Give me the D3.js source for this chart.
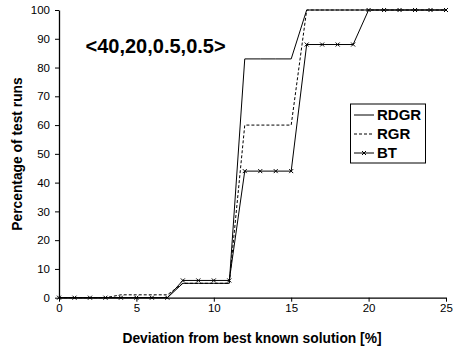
<!DOCTYPE html>
<html>
<head>
<meta charset="utf-8">
<script src="https://cdn.jsdelivr.net/npm/d3@7"></script>
<style>
  html, body { margin: 0; padding: 0; background: #fff; }
  svg { display: block; }
  text { font-family: "Liberation Sans", Arial, sans-serif; fill: #000; }
</style>
</head>
<body>
<div id="chart"></div>
<script>
// Cumulative share of test runs within a given deviation from the best known solution
const deviations = d3.range(0, 26);           // 0 .. 25 %
const rdgr = [0,0,0,0,0,0,0,0,5,5,5,5,83,83,83,83,100,100,100,100,100,100,100,100,100,100];
const rgr  = [0,0,0,0,1,1,1,1,5,5,5,5,60,60,60,60,100,100,100,100,100,100,100,100,100,100];
const bt   = [0,0,0,0,0,0,0,0,6,6,6,6,44,44,44,44,88,88,88,88,100,100,100,100,100,100];
const seriesNames = ["RDGR", "RGR", "BT"];
const xTicks = [0, 5, 10, 15, 20, 25];
const yTicks = d3.range(0, 101, 10);
const chartTitle = "<40,20,0.5,0.5>";

const W = 454, H = 350;
const plot = { left: 59, right: 446, top: 10, bottom: 297.7 };

const svg = d3.select("#chart").append("svg")
  .attr("width", W).attr("height", H);

const x = d3.scaleLinear().domain([0, 25]).range([plot.left, plot.right]);
const y = d3.scaleLinear().domain([0, 100]).range([plot.bottom, plot.top]);

// Axes
const yAxis = svg.append("g")
  .attr("transform", `translate(${plot.left},0)`)
  .call(d3.axisLeft(y).tickValues(yTicks).tickSize(4).tickPadding(5).tickSizeOuter(0));
const xAxis = svg.append("g")
  .attr("transform", `translate(0,${plot.bottom})`)
  .call(d3.axisBottom(x).tickValues(xTicks).tickSize(4).tickPadding(2).tickSizeOuter(0));

[xAxis, yAxis].forEach(g => {
  g.select(".domain").attr("stroke", "#000").attr("stroke-width", 1.3);
  g.selectAll(".tick line").attr("stroke", "#000").attr("stroke-width", 1);
  g.selectAll(".tick text")
    .style("font-family", '"Liberation Sans", Arial, sans-serif')
    .style("font-size", "11.5px").attr("fill", "#000");
});

// Series lines
const line = d3.line()
  .x((d, i) => x(deviations[i]))
  .y(d => y(d));

const styles = {
  RDGR: { dash: null },
  RGR:  { dash: "3,2" },
  BT:   { dash: null }
};
const seriesData = { RDGR: rdgr, RGR: rgr, BT: bt };

["RGR", "RDGR", "BT"].forEach(name => {
  svg.append("path")
    .datum(seriesData[name])
    .attr("d", line)
    .attr("fill", "none")
    .attr("stroke", "#000")
    .attr("stroke-width", 1)
    .attr("stroke-dasharray", styles[name].dash);
});

// 'x' markers on BT
function crossPath(cx, cy, r) {
  return `M${cx - r},${cy - r}L${cx + r},${cy + r}M${cx - r},${cy + r}L${cx + r},${cy - r}`;
}
svg.append("g").selectAll("path")
  .data(bt)
  .join("path")
  .attr("d", (d, i) => crossPath(x(deviations[i]), y(d), 2))
  .attr("fill", "none")
  .attr("stroke", "#000")
  .attr("stroke-width", 1);

// Title inside plot
svg.append("text")
  .attr("x", 85.5).attr("y", 53)
  .style("font-size", "20px").style("font-weight", "bold")
  .text(chartTitle);

// Axis titles
svg.append("text")
  .attr("x", 252).attr("y", 343)
  .attr("text-anchor", "middle")
  .style("font-size", "13.8px").style("font-weight", "bold")
  .text("Deviation from best known solution [%]");

svg.append("text")
  .attr("transform", "translate(21.5,154) rotate(-90)")
  .attr("text-anchor", "middle")
  .style("font-size", "13.8px").style("font-weight", "bold")
  .text("Percentage of test runs");

// Legend
const legend = svg.append("g");
legend.append("rect")
  .attr("x", 350.5).attr("y", 104).attr("width", 75).attr("height", 59)
  .attr("fill", "#fff").attr("stroke", "#000").attr("stroke-width", 1);

const rowY = [115, 134, 153];
seriesNames.forEach((name, i) => {
  const ly = rowY[i];
  legend.append("line")
    .attr("x1", 354).attr("x2", 374).attr("y1", ly).attr("y2", ly)
    .attr("stroke", "#000").attr("stroke-width", 1)
    .attr("stroke-dasharray", styles[name].dash);
  if (name === "BT") {
    legend.append("path")
      .attr("d", crossPath(364, ly, 2))
      .attr("fill", "none").attr("stroke", "#000");
  }
  legend.append("text")
    .attr("x", 377).attr("y", ly).attr("dy", "0.36em")
    .style("font-size", "15px").style("font-weight", "bold")
    .text(name);
});
</script>
</body>
</html>
